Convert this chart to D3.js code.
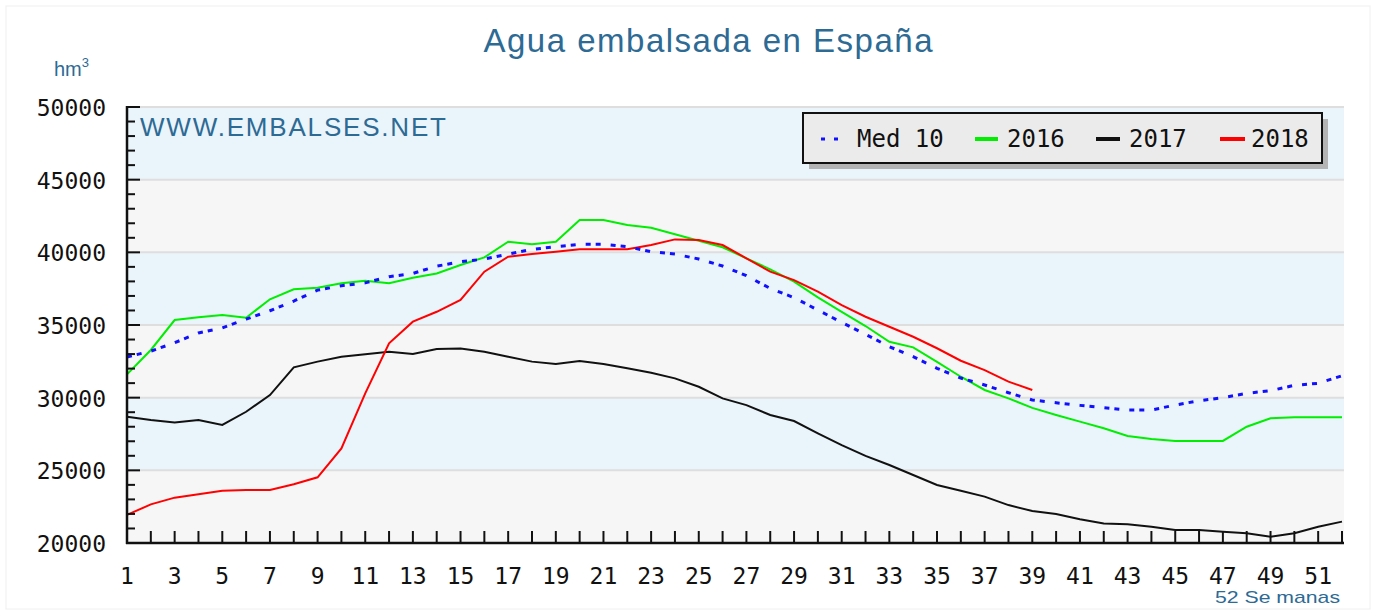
<!DOCTYPE html>
<html><head><meta charset="utf-8">
<script src="https://cdn.jsdelivr.net/npm/d3@7"></script>
<style>html,body{margin:0;padding:0;background:#fff;}svg{display:block;}</style>
</head><body>
<svg id="chart" width="1377" height="616"></svg>
<script>
const weeks = d3.range(1, 53);
const med10 = [32800,33200,33780,34450,34800,35400,35980,36650,37400,37700,37900,38320,38550,39050,39350,39540,39880,40200,40390,40550,40550,40390,40040,39880,39540,39060,38390,37520,36880,36030,35180,34360,33510,32820,32020,31350,30870,30340,29840,29650,29470,29310,29150,29150,29490,29790,30000,30300,30480,30850,30990,31510];
const y2016 = [31600,33280,35340,35530,35690,35500,36770,37460,37570,37870,38050,37870,38250,38550,39130,39650,40730,40550,40730,42220,42220,41880,41690,41240,40800,40350,39590,38830,37980,36900,35910,34930,33850,33460,32470,31440,30530,29950,29300,28810,28350,27890,27360,27160,27020,27020,27020,28000,28580,28650,28650,28650];
const y2017 = [28690,28460,28300,28460,28120,29030,30180,32090,32480,32820,32980,33160,33000,33350,33390,33160,32820,32480,32320,32520,32320,32020,31720,31330,30750,29950,29490,28810,28390,27550,26740,25990,25370,24680,23990,23600,23190,22610,22200,22000,21630,21350,21290,21120,20890,20890,20780,20670,20430,20670,21120,21470];
const y2018 = [21930,22660,23120,23350,23600,23650,23650,24040,24520,26510,30300,33740,35230,35910,36720,38670,39700,39880,40040,40210,40210,40210,40500,40890,40850,40500,39590,38670,38090,37290,36370,35570,34880,34190,33400,32540,31900,31100,30530];
const yTicks = [20000,25000,30000,35000,40000,45000,50000];
const xTickLabels = d3.range(1, 53, 2);
const seriesNames = ["Med 10","2016","2017","2018"];
const seriesColors = ["#1010ff","#00ee00","#111111","#ff0000"];
const titleText = "Agua embalsada en España";
const siteText = "WWW.EMBALSES.NET";

const svg = d3.select("#chart");
const L = 127, R = 1344, T = 107, B = 543;
const x = d3.scaleLinear().domain([1, 52]).range([127, 1342]);
const y = d3.scaleLinear().domain([20000, 50000]).range([B, T]);

// outer faint frame
svg.append("rect").attr("x",6).attr("y",6).attr("width",1364).attr("height",603)
  .attr("fill","#fff").attr("stroke","#f0f0f0").attr("stroke-width",1);

// bands
const bandEdges = d3.range(20000, 50000, 5000);
svg.selectAll("rect.band").data(bandEdges).join("rect").attr("class","band")
  .attr("x", L).attr("width", R - L)
  .attr("y", d => y(d + 5000)).attr("height", d => y(d) - y(d + 5000))
  .attr("fill", d => ((d / 5000) % 2 === 1) ? "#eaf4fb" : "#f6f6f6");
// gridlines
svg.selectAll("line.grid").data(yTicks.filter(d => d > 20000)).join("line").attr("class","grid")
  .attr("x1", L).attr("x2", R).attr("y1", d => y(d)).attr("y2", d => y(d))
  .attr("stroke", "#dedede").attr("stroke-width", 2);

// website text
svg.append("text").attr("x", 140).attr("y", 136).text(siteText)
  .attr("font-family","Liberation Sans, Arial, sans-serif").attr("font-size", 26)
  .attr("fill","#2d6a94").attr("textLength", 306).attr("lengthAdjust","spacing");

// lines
const line = d3.line().x((d, i) => x(weeks[i])).y(d => y(d));
svg.append("path").datum(y2016).attr("d", line).attr("fill","none").attr("stroke", seriesColors[1]).attr("stroke-width", 2);
svg.append("path").datum(y2017).attr("d", line).attr("fill","none").attr("stroke", seriesColors[2]).attr("stroke-width", 2);
svg.append("path").datum(y2018).attr("d", line).attr("fill","none").attr("stroke", seriesColors[3]).attr("stroke-width", 2);
svg.append("path").datum(med10).attr("d", line).attr("fill","none").attr("stroke", seriesColors[0])
  .attr("stroke-width", 3).attr("stroke-dasharray","5,5,5,10");

// y axis ticks
const minorY = d3.range(20000, 50001, 1000);
svg.selectAll("line.ytick").data(minorY).join("line").attr("class","ytick")
  .attr("x1", L).attr("x2", d => L + (d % 5000 === 0 ? 13 : 8))
  .attr("y1", d => y(d)).attr("y2", d => y(d))
  .attr("stroke","#111").attr("stroke-width",2);
svg.selectAll("text.ylab").data(yTicks).join("text").attr("class","ylab")
  .attr("x", 106).attr("y", d => y(d) + 9).attr("text-anchor","end")
  .attr("font-family","DejaVu Sans Mono, monospace").attr("font-size", 23).attr("fill","#111")
  .text(d => d);
// x axis ticks
svg.selectAll("line.xtick").data(weeks).join("line").attr("class","xtick")
  .attr("x1", d => x(d)).attr("x2", d => x(d)).attr("y1", B).attr("y2", B - 12)
  .attr("stroke","#111").attr("stroke-width",2);
svg.selectAll("text.xlab").data(xTickLabels).join("text").attr("class","xlab")
  .attr("x", d => x(d)).attr("y", 584).attr("text-anchor","middle")
  .attr("font-family","DejaVu Sans Mono, monospace").attr("font-size", 23).attr("fill","#111")
  .text(d => d);
// axis lines
svg.append("line").attr("x1", L).attr("x2", L).attr("y1", T - 1).attr("y2", B + 1).attr("stroke","#111").attr("stroke-width",2.5);
svg.append("line").attr("x1", L - 1).attr("x2", R).attr("y1", B).attr("y2", B).attr("stroke","#111").attr("stroke-width",2.5);

// title
svg.append("text").attr("x", 708).attr("y", 52).attr("text-anchor","middle").text(titleText)
  .attr("font-family","Liberation Sans, Arial, sans-serif").attr("font-size", 33)
  .attr("fill","#2d6a94").attr("textLength", 449).attr("lengthAdjust","spacing");
// unit
const hm = svg.append("text").attr("x", 54).attr("y", 76)
  .attr("font-family","Liberation Sans, Arial, sans-serif").attr("font-size", 20).attr("fill","#2d6a94");
hm.append("tspan").text("hm");
hm.append("tspan").attr("dy", -9).attr("font-size", 13).text("3");
// x axis title
svg.append("text").attr("x", 1340).attr("y", 603).attr("text-anchor","end").text("52 Se manas")
  .attr("font-family","Liberation Sans, Arial, sans-serif").attr("font-size", 17)
  .attr("fill","#2d6a94").attr("textLength", 125).attr("lengthAdjust","spacingAndGlyphs");

// legend
const lg = svg.append("g");
lg.append("rect").attr("x", 809).attr("y", 119).attr("width", 519).attr("height", 50).attr("fill","#b4b4b4");
lg.append("rect").attr("x", 803).attr("y", 113).attr("width", 519).attr("height", 50)
  .attr("fill","#ebebeb").attr("stroke","#111").attr("stroke-width",2);
const items = [
  {sx: 821, ex: 841, tx: 857},
  {sx: 975, ex: 998, tx: 1007},
  {sx: 1096, ex: 1120, tx: 1129},
  {sx: 1220, ex: 1245, tx: 1251}
];
items.forEach((it, i) => {
  const ln = lg.append("line").attr("x1", it.sx).attr("x2", it.ex).attr("y1", 139).attr("y2", 139)
    .attr("stroke", seriesColors[i]).attr("stroke-width", i === 0 ? 3 : 4);
  if (i === 0) ln.attr("stroke-dasharray","4,9");
  lg.append("text").attr("x", it.tx).attr("y", 147).text(seriesNames[i])
    .attr("font-family","DejaVu Sans Mono, monospace").attr("font-size", 24).attr("fill","#111");
});
</script>
</body></html>
